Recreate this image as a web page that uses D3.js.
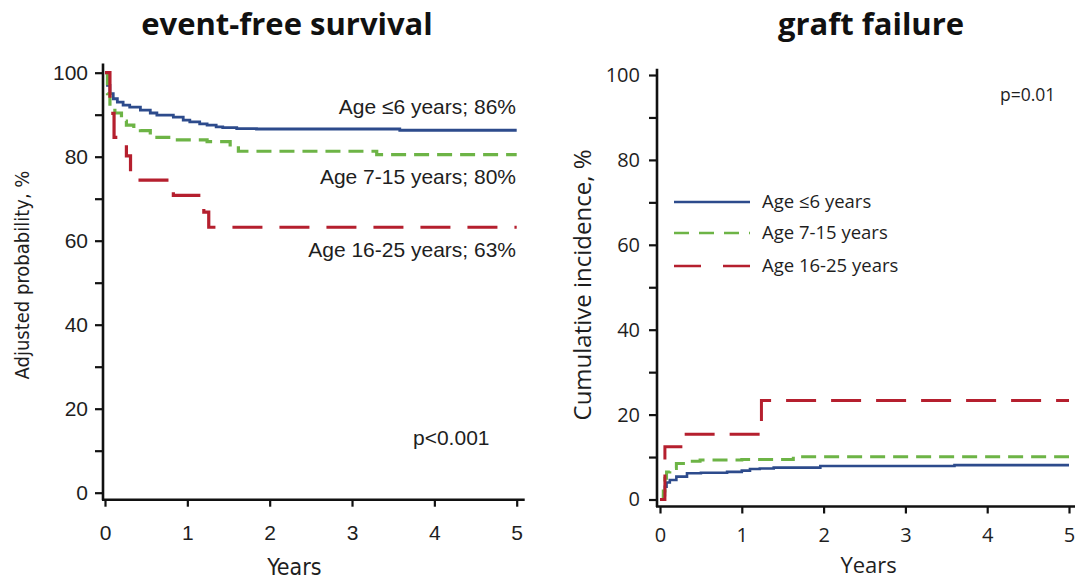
<!DOCTYPE html>
<html><head><meta charset="utf-8">
<script src="https://cdn.jsdelivr.net/npm/d3@7"></script>
<style>
html,body{margin:0;padding:0;background:#fff;}
svg{display:block;}
</style></head>
<body>
<svg id="chart" width="1081" height="580"></svg>
<script>
// ---------- data ----------
const yearTicks = [0, 1, 2, 3, 4, 5];
const pctTicks = [0, 10, 20, 30, 40, 50, 60, 70, 80, 90, 100];
const seriesNames = ["Age \u22646 years", "Age 7-15 years", "Age 16-25 years"];
const efsEndLabels = ["Age \u22646 years; 86%", "Age 7-15 years; 80%", "Age 16-25 years; 63%"];

// event-free survival [years, adjusted probability %]
const efsAge0to6 = [[0,100],[0.03,97],[0.06,95],[0.1,93.8],[0.15,93],[0.22,92.3],[0.3,91.8],[0.43,91.1],[0.55,90.4],[0.63,89.9],[0.83,89.4],[0.95,88.7],[1.03,88.3],[1.15,87.8],[1.24,87.5],[1.35,87.1],[1.43,86.9],[1.6,86.7],[1.84,86.6],[3.58,86.3],[5,86.3]];
const efsAge7to15 = [[0,100],[0.03,95],[0.06,92],[0.12,90.4],[0.2,88.5],[0.26,87.5],[0.35,86.8],[0.43,86.2],[0.55,84.6],[0.83,84.0],[1.24,83.6],[1.52,82.8],[1.62,81.3],[3.3,80.5],[5,80.5]];
const efsAge16to25 = [[0,100],[0.06,90.3],[0.11,84.6],[0.26,80.2],[0.31,74.4],[0.83,70.8],[1.2,66.8],[1.26,63.2],[5,63.2]];

// graft failure [years, cumulative incidence %]
const gfAge0to6 = [[0,0],[0.04,1],[0.06,3],[0.08,4],[0.12,4.6],[0.2,5.4],[0.33,6.2],[0.5,6.3],[0.82,6.5],[1.0,6.8],[1.1,7.2],[1.22,7.3],[1.39,7.5],[1.96,7.9],[3.6,8.1],[5,8.1]];
const gfAge7to15 = [[0,0],[0.04,2],[0.06,5],[0.08,6.5],[0.12,7.3],[0.2,8.5],[0.35,9.0],[0.49,9.3],[1.0,9.4],[1.63,10.1],[5,10.1]];
const gfAge16to25 = [[0,0],[0.06,12.4],[0.32,15.4],[1.24,23.3],[5,23.3]];

// ---------- styles ----------
const colors = ["#2d4b8c", "#6db446", "#b51f2e"];
const dashesL = [null, "15 8", "30 17"];
const dashesR = [null, "15 8", "30 15"];
const leftFont = "'Liberation Sans', Arial, sans-serif";
const narrowFont = "'Liberation Sans Narrow', 'Arial Narrow', 'DejaVu Sans Condensed', sans-serif";
const rightFont = "'Open Sans', 'Noto Sans', sans-serif";
const ink = "#1e1e1e";

const svg = d3.select("#chart");

// ---------- titles ----------
svg.append("text").attr("x", 287).attr("y", 35).attr("text-anchor", "middle")
  .attr("font-family", rightFont).attr("font-weight", 700).attr("font-size", 31).attr("fill", "#111")
  .text("event-free survival");
svg.append("text").attr("x", 871).attr("y", 35).attr("text-anchor", "middle")
  .attr("font-family", rightFont).attr("font-weight", 700).attr("font-size", 31).attr("fill", "#111")
  .text("graft failure");

// ---------- left panel ----------
const xL = d3.scaleLinear().domain([0, 5]).range([105, 516.7]);
const yL = d3.scaleLinear().domain([0, 100]).range([492.7, 72.7]);
const gL = svg.append("g");

const yAxisL = d3.axisLeft(yL).tickValues(pctTicks).tickSize(8).tickPadding(7)
  .tickFormat(d => d % 20 === 0 ? d : "");
const gyL = gL.append("g").attr("transform", `translate(${xL(0) - 2},0)`).call(yAxisL);
gyL.select(".domain").remove();
gyL.append("line").attr("x1", 0).attr("x2", 0).attr("y1", yL(102.2)).attr("y2", yL(0) + 7.5)
  .attr("stroke", "#111").attr("stroke-width", 2.6);
gyL.selectAll(".tick line").attr("stroke", "#111").attr("stroke-width", 2.2);
gyL.selectAll(".tick text").attr("font-family", leftFont).attr("font-size", 21).attr("fill", ink);

const xAxisL = d3.axisBottom(xL).tickValues(yearTicks).tickSize(7).tickPadding(18).tickFormat(d3.format("d"));
const gxL = gL.append("g").attr("transform", `translate(0,${yL(0) + 7})`).call(xAxisL);
gxL.select(".domain").remove();
gxL.append("line").attr("x1", xL(0) - 3).attr("x2", xL(5) + 8).attr("y1", 0).attr("y2", 0)
  .attr("stroke", "#111").attr("stroke-width", 2.6);
gxL.selectAll(".tick line").attr("stroke", "#111").attr("stroke-width", 2.2);
gxL.selectAll(".tick text").attr("font-family", leftFont).attr("font-size", 21).attr("fill", ink);

gL.append("text").attr("transform", `translate(29,${275}) rotate(-90)`).attr("text-anchor", "middle")
  .attr("font-family", narrowFont).attr("font-size", 20).attr("fill", ink)
  .text("Adjusted probability, %");
gL.append("text").attr("x", xL(2.3)).attr("y", 575).attr("text-anchor", "middle")
  .attr("font-family", narrowFont).attr("font-size", 23).attr("fill", ink).text("Years");

const lineL = d3.line().x(d => xL(d[0])).y(d => yL(d[1])).curve(d3.curveStepAfter);
[efsAge0to6, efsAge7to15, efsAge16to25].forEach((s, i) => {
  gL.append("path").datum(s).attr("d", lineL).attr("fill", "none")
    .attr("stroke", colors[i]).attr("stroke-width", i === 0 ? 2.8 : 3.2)
    .attr("stroke-dasharray", dashesL[i]);
});
const endLabelY = [114, 184, 257];
efsEndLabels.forEach((t, i) => {
  gL.append("text").attr("x", 516).attr("y", endLabelY[i]).attr("text-anchor", "end")
    .attr("font-family", leftFont).attr("font-size", 21).attr("fill", ink).text(t);
});
gL.append("text").attr("x", 413).attr("y", 445).attr("font-family", leftFont)
  .attr("font-size", 21).attr("fill", ink).text("p<0.001");

// ---------- right panel ----------
const xR = d3.scaleLinear().domain([0, 5]).range([660, 1069]);
const yR = d3.scaleLinear().domain([0, 100]).range([499.5, 75]);
const gR = svg.append("g");

const yAxisR = d3.axisLeft(yR).tickValues(pctTicks).tickSize(8).tickPadding(9)
  .tickFormat(d => d % 20 === 0 ? d : "");
const gyR = gR.append("g").attr("transform", `translate(${xR(0) - 3},0)`).call(yAxisR);
gyR.select(".domain").remove();
gyR.append("line").attr("x1", 0).attr("x2", 0).attr("y1", yR(101.5)).attr("y2", yR(0) + 7.5)
  .attr("stroke", "#111").attr("stroke-width", 2.6);
gyR.selectAll(".tick line").attr("stroke", "#111").attr("stroke-width", 2.2);
gyR.selectAll(".tick text").attr("font-family", rightFont).attr("font-size", 20).attr("fill", ink);

const xAxisR = d3.axisBottom(xR).tickValues(yearTicks).tickSize(7).tickPadding(14).tickFormat(d3.format("d"));
const gxR = gR.append("g").attr("transform", `translate(0,${yR(0) + 7})`).call(xAxisR);
gxR.select(".domain").remove();
gxR.append("line").attr("x1", xR(0) - 4).attr("x2", xR(5) + 6).attr("y1", 0).attr("y2", 0)
  .attr("stroke", "#111").attr("stroke-width", 2.6);
gxR.selectAll(".tick line").attr("stroke", "#111").attr("stroke-width", 2.2);
gxR.selectAll(".tick text").attr("font-family", rightFont).attr("font-size", 20).attr("fill", ink);

gR.append("text").attr("transform", `translate(591,${285}) rotate(-90)`).attr("text-anchor", "middle")
  .attr("font-family", rightFont).attr("font-size", 24).attr("fill", ink)
  .text("Cumulative incidence, %");
gR.append("text").attr("x", xR(2.55)).attr("y", 573).attr("text-anchor", "middle")
  .attr("font-family", rightFont).attr("font-size", 22).attr("fill", ink).text("Years");

const lineR = d3.line().x(d => xR(d[0])).y(d => yR(d[1])).curve(d3.curveStepAfter);
[gfAge0to6, gfAge7to15, gfAge16to25].forEach((s, i) => {
  gR.append("path").datum(s).attr("d", lineR).attr("fill", "none")
    .attr("stroke", colors[i]).attr("stroke-width", i === 0 ? 2.6 : 3)
    .attr("stroke-dasharray", dashesR[i]);
});

// legend
const legY = [202, 233, 266];
const legDash = [null, "15 10", "27 22"];
seriesNames.forEach((n, i) => {
  gR.append("line").attr("x1", 674).attr("x2", 750).attr("y1", legY[i]).attr("y2", legY[i])
    .attr("stroke", colors[i]).attr("stroke-width", 2.6).attr("stroke-dasharray", legDash[i]);
  gR.append("text").attr("x", 762).attr("y", legY[i] + 6).attr("font-family", rightFont)
    .attr("font-size", 18.5).attr("fill", ink).text(n);
});
gR.append("text").attr("x", 1000).attr("y", 101).attr("font-family", rightFont)
  .attr("font-size", 17.5).attr("fill", ink).text("p=0.01");
</script>
</body></html>
